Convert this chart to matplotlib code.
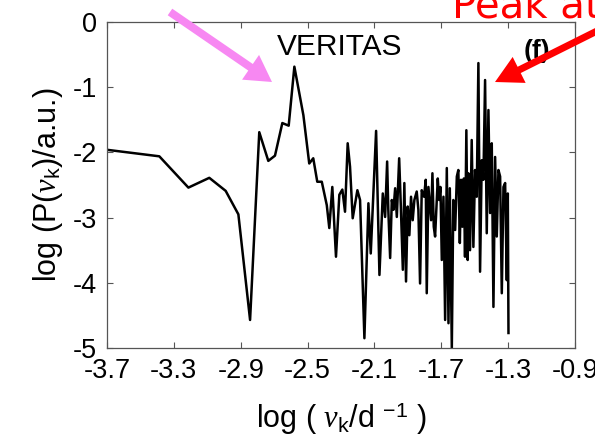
import matplotlib
matplotlib.use('Agg')
import matplotlib.pyplot as plt
from matplotlib.patches import FancyArrow

# ---- data ----
log_freq = [-3.700, -3.387, -3.213, -3.088, -2.990, -2.914, -2.844, -2.789, -2.735, -2.695,
            -2.651, -2.613, -2.579, -2.525, -2.490, -2.466, -2.442, -2.415, -2.385, -2.370,
            -2.352, -2.330, -2.310, -2.292, -2.276, -2.260, -2.246, -2.230, -2.202, -2.186,
            -2.160, -2.136, -2.122, -2.090, -2.070, -2.050, -2.036, -2.024, -2.017, -2.006,
            -1.996, -1.986, -1.976, -1.966, -1.952, -1.942, -1.930, -1.921, -1.911, -1.901,
            -1.891, -1.881, -1.871, -1.861, -1.847, -1.837, -1.827, -1.817, -1.803, -1.793,
            -1.787, -1.777, -1.761, -1.753, -1.745, -1.737, -1.727, -1.721, -1.713, -1.705,
            -1.697, -1.687, -1.677, -1.667, -1.657, -1.649, -1.637, -1.628, -1.617, -1.607,
            -1.598, -1.589, -1.582, -1.574, -1.565, -1.558, -1.550, -1.542, -1.538, -1.528,
            -1.518, -1.508, -1.498, -1.488, -1.478, -1.468, -1.458, -1.448, -1.438, -1.428,
            -1.418, -1.408, -1.398, -1.388, -1.378, -1.368, -1.358, -1.348, -1.338, -1.328,
            -1.318, -1.308, -1.302, -1.298]
log_power = [-1.96, -2.06, -2.54, -2.39, -2.59, -2.95, -4.57, -1.69, -2.13, -2.05,
             -1.55, -1.59, -0.685, -1.43, -2.17, -2.09, -2.45, -2.45, -2.81, -3.16,
             -2.53, -3.60, -2.65, -2.57, -2.91, -1.86, -2.22, -3.01, -2.58, -2.73,
             -4.85, -2.78, -3.55, -1.67, -3.88, -2.63, -2.99, -2.14, -2.88, -3.62,
             -2.73, -2.88, -2.55, -2.99, -2.09, -2.83, -3.80, -2.47, -3.98, -2.83,
             -3.27, -2.68, -3.04, -2.73, -2.60, -2.88, -4.01, -2.58, -2.68, -2.42,
             -4.16, -2.53, -3.04, -2.32, -3.14, -3.29, -2.73, -2.40, -2.73, -2.53,
             -3.65, -2.68, -4.57, -2.24, -4.62, -2.55, -5.00, -2.73, -3.19, -2.37,
             -2.27, -3.39, -2.42, -3.14, -2.40, -3.60, -1.66, -3.65, -2.32, -3.50,
             -1.81, -3.45, -2.27, -2.68, -0.63, -3.83, -2.12, -2.42, -0.89, -3.24,
             -1.35, -2.93, -1.86, -4.37, -2.07, -3.29, -2.27, -2.37, -4.16, -2.53,
             -2.47, -3.96, -2.63, -4.77]

xticks = [-3.7, -3.3, -2.9, -2.5, -2.1, -1.7, -1.3, -0.9]
xtick_labels = ['-3.7', '-3.3', '-2.9', '-2.5', '-2.1', '-1.7', '-1.3', '-0.9']
yticks = [0, -1, -2, -3, -4, -5]
ytick_labels = ['0', '-1', '-2', '-3', '-4', '-5']

plt.rcParams['font.family'] = ['Liberation Sans', 'DejaVu Sans']
plt.rcParams['mathtext.fontset'] = 'custom'
plt.rcParams['mathtext.rm'] = 'Liberation Sans'
plt.rcParams['mathtext.it'] = 'Liberation Serif:italic'
plt.rcParams['axes.unicode_minus'] = False

W, H = 595, 447
fig = plt.figure(figsize=(W / 100, H / 100), dpi=100)
ax = fig.add_axes([107 / W, 99 / H, 468 / W, 326 / H])

ax.plot(log_freq, log_power, color='black', lw=1.8)

ax.set_xlim(-3.7, -0.9)
ax.set_ylim(-5, 0)
ax.set_xticks(xticks)
ax.set_xticklabels(xtick_labels)
ax.set_yticks(yticks)
ax.set_yticklabels(ytick_labels)
ax.tick_params(direction='in', length=4, width=0.8, top=True, right=True,
               labelsize=19.5, color='#555555', labelcolor='black', pad=7)
for s in ax.spines.values():
    s.set_color('#555555')
    s.set_linewidth(0.9)

ax.set_xlabel(r'log ( $\nu_\mathrm{k}$/d $^{-1}$ )', fontsize=22, labelpad=12)
ax.set_ylabel(r'log (P($\nu_\mathrm{k}$)/a.u.)', fontsize=22, labelpad=6)

ax.text(0.496, 0.922, 'VERITAS', transform=ax.transAxes, fontsize=21.5,
        ha='center', va='center')
ax.text(0.919, 0.912, '(f)', transform=ax.transAxes, fontsize=19,
        fontweight='bold', ha='center', va='center')

# annotation arrows (figure inches)
tr = fig.dpi_scale_trans
pink = FancyArrow(1.70, 4.35, 1.02, -0.70, width=0.08, head_width=0.30,
                  head_length=0.26, length_includes_head=True,
                  color='#f788f2', lw=0, transform=tr)
red = FancyArrow(6.20, 4.275, -1.25, -0.625, width=0.07, head_width=0.29,
                 head_length=0.27, length_includes_head=True,
                 color='#ff0000', lw=0, transform=tr)
fig.add_artist(pink)
fig.add_artist(red)

fig.text(451.7 / W, (H - 18) / H, 'Peak at', color='#ff0000', fontsize=29,
         family='DejaVu Sans', ha='left', va='baseline')

fig.savefig('out.png', dpi=100)
